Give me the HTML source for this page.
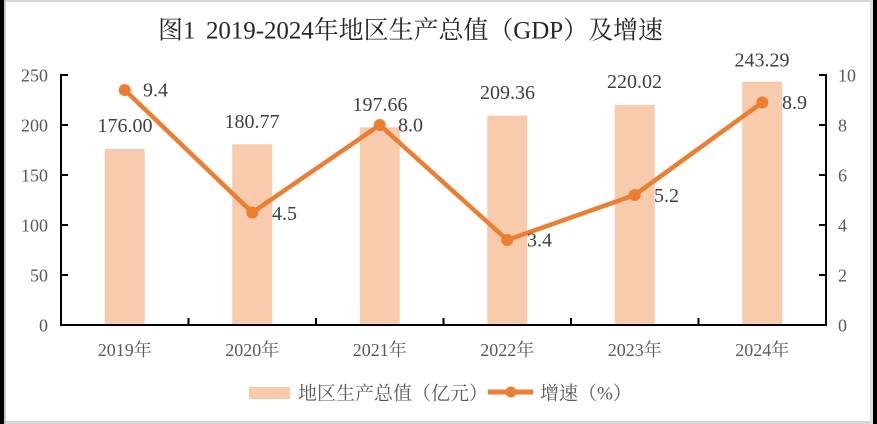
<!DOCTYPE html>
<html><head><meta charset="utf-8"><style>
html,body{margin:0;padding:0;background:#fff;}
svg{display:block;}
text{font-family:"Liberation Serif","Noto Serif CJK SC",serif;}
</style></head><body>
<svg width="877" height="424" viewBox="0 0 877 424" xmlns="http://www.w3.org/2000/svg">
<rect x="0" y="0" width="877" height="424" fill="#fff"/>
<!-- frame -->
<rect x="0" y="0" width="877" height="2" fill="#d6d6d6"/>
<rect x="0" y="421" width="877" height="3" fill="#d6d6d6"/>
<rect x="4" y="0" width="2" height="424" fill="#c8c8c8"/>
<rect x="0" y="0" width="4" height="424" fill="#000"/>
<rect x="870" y="0" width="3" height="424" fill="#e0e0e0"/>
<rect x="873" y="0" width="4" height="424" fill="#000"/>

<!-- title -->
<text x="158" y="38.5" font-size="25" fill="#262626">图1</text>
<text x="206" y="38.5" font-size="25" fill="#262626" textLength="457" lengthAdjust="spacing">2019-2024年地区生产总值（GDP）及增速</text>

<!-- bars -->
<g fill="#F8CBAD">
<rect x="104.75" y="149" width="40" height="176"/>
<rect x="232.25" y="144.23" width="40" height="180.77"/>
<rect x="359.75" y="127.34" width="40" height="197.66"/>
<rect x="487.25" y="115.64" width="40" height="209.36"/>
<rect x="614.75" y="104.98" width="40" height="220.02"/>
<rect x="742.25" y="81.71" width="40" height="243.29"/>
</g>

<!-- axes -->
<g stroke="#000" stroke-width="2" fill="none">
<line x1="61" y1="74" x2="61" y2="326"/>
<line x1="826" y1="74" x2="826" y2="326"/>
<line x1="60" y1="325" x2="827" y2="325"/>
<!-- left ticks -->
<line x1="61" y1="75" x2="68" y2="75"/>
<line x1="61" y1="125" x2="68" y2="125"/>
<line x1="61" y1="175" x2="68" y2="175"/>
<line x1="61" y1="225" x2="68" y2="225"/>
<line x1="61" y1="275" x2="68" y2="275"/>
<!-- right ticks -->
<line x1="819" y1="75" x2="826" y2="75"/>
<line x1="819" y1="125" x2="826" y2="125"/>
<line x1="819" y1="175" x2="826" y2="175"/>
<line x1="819" y1="225" x2="826" y2="225"/>
<line x1="819" y1="275" x2="826" y2="275"/>
<!-- category ticks -->
<line x1="188.5" y1="318" x2="188.5" y2="325"/>
<line x1="316" y1="318" x2="316" y2="325"/>
<line x1="443.5" y1="318" x2="443.5" y2="325"/>
<line x1="571" y1="318" x2="571" y2="325"/>
<line x1="698.5" y1="318" x2="698.5" y2="325"/>
</g>

<!-- left tick labels -->
<g font-size="18" fill="#595959" text-anchor="end">
<text x="48" y="81.5">250</text>
<text x="48" y="131.5">200</text>
<text x="48" y="181.5">150</text>
<text x="48" y="231.5">100</text>
<text x="48" y="281.5">50</text>
<text x="48" y="331.5">0</text>
</g>
<!-- right tick labels -->
<g font-size="18" fill="#595959">
<text x="838" y="81.5">10</text>
<text x="838" y="131.5">8</text>
<text x="838" y="181.5">6</text>
<text x="838" y="231.5">4</text>
<text x="838" y="281.5">2</text>
<text x="838" y="331.5">0</text>
</g>
<!-- category labels -->
<g font-size="18" fill="#595959" text-anchor="middle">
<text x="124.75" y="356">2019年</text>
<text x="252.25" y="356">2020年</text>
<text x="379.75" y="356">2021年</text>
<text x="507.25" y="356">2022年</text>
<text x="634.75" y="356">2023年</text>
<text x="762.25" y="356">2024年</text>
</g>

<!-- line -->
<polyline points="124.75,90 252.25,212.5 379.75,125 507.25,240 634.75,195 762.25,102.5" fill="none" stroke="#ED7D31" stroke-width="4.5" stroke-linejoin="round"/>
<g fill="#ED7D31">
<circle cx="124.75" cy="90" r="6"/>
<circle cx="252.25" cy="212.5" r="6"/>
<circle cx="379.75" cy="125" r="6"/>
<circle cx="507.25" cy="240" r="6"/>
<circle cx="634.75" cy="195" r="6"/>
<circle cx="762.25" cy="102.5" r="6"/>
</g>

<!-- bar data labels -->
<g font-size="20" fill="#404040" text-anchor="middle">
<text x="125" y="132">176.00</text>
<text x="252" y="128">180.77</text>
<text x="380" y="111">197.66</text>
<text x="507.5" y="99">209.36</text>
<text x="634.5" y="88">220.02</text>
<text x="762" y="66.5">243.29</text>
</g>
<!-- line data labels -->
<g font-size="20" fill="#404040">
<text x="143" y="96.5">9.4</text>
<text x="272" y="220">4.5</text>
<text x="398" y="131.5">8.0</text>
<text x="527" y="246.5">3.4</text>
<text x="654" y="202">5.2</text>
<text x="782" y="109">8.9</text>
</g>

<!-- legend -->
<rect x="249" y="387" width="41" height="12" fill="#F8CBAD"/>
<text x="298" y="399.5" font-size="19" fill="#595959">地区生产总值（亿元）</text>
<line x1="488" y1="392" x2="533" y2="392" stroke="#ED7D31" stroke-width="5"/>
<circle cx="511" cy="392" r="5.5" fill="#ED7D31"/>
<text x="540" y="399.5" font-size="19" fill="#595959">增速（%）</text>
</svg>
</body></html>
